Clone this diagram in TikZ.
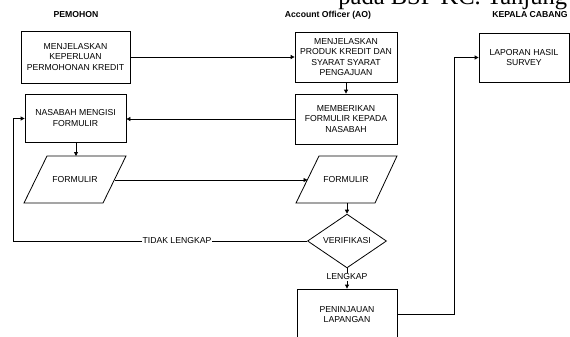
\documentclass[tikz,border=0pt]{standalone}
\usepackage{fontspec}
\setmainfont{Liberation Sans}
\newfontfamily\serifbig{Liberation Serif}
\usetikzlibrary{shapes.geometric,arrows.meta}
\tikzset{
  every picture/.style={line width=0.6pt},
  txt/.style={font=\fontsize{6.5}{7.9}\selectfont, align=center},
  hdr/.style={font=\bfseries\fontsize{6.5}{7.9}\selectfont},
  procbox/.style={draw, txt, rectangle, inner sep=1pt},
  decbox/.style={draw, txt, diamond, inner sep=0pt, minimum width=59.25pt, minimum height=34.5pt},
  arr/.style={-{Triangle[length=3pt,width=3pt]}},
  lbl/.style={txt, fill=white, inner sep=0.5pt}
}
\begin{document}
\begin{tikzpicture}[x=0.75pt,y=-0.75pt]
\useasboundingbox (0,0) rectangle (570,336);
\clip (0,0) rectangle (570,336);
\fill[white] (0,0) rectangle (570,336);
% cut-off title
\node[anchor=base west, inner sep=0, font=\serifbig\fontsize{18.4}{20}\selectfont] (title) at (338,4) {pada BSP KC. Tanjung};
% headers
\node[hdr] (h1) at (76,15) {PEMOHON};
\node[hdr] (h2) at (328,15) {Account Officer (AO)};
\node[hdr] (h3) at (530,15) {KEPALA CABANG};
% boxes
\node[procbox, minimum width=81.75pt, minimum height=39pt] (b1) at (75.5,57) {MENJELASKAN\\KEPERLUAN\\PERMOHONAN KREDIT};
\node[procbox, minimum width=75.75pt, minimum height=36pt] (b2) at (75.5,118) {NASABAH MENGISI\\FORMULIR};
\node[procbox, minimum width=76.5pt, minimum height=37.5pt] (ba) at (346,57) {MENJELASKAN\\PRODUK KREDIT DAN\\SYARAT SYARAT\\PENGAJUAN};
\node[procbox, minimum width=76.5pt, minimum height=37.5pt] (bb) at (346,119) {MEMBERIKAN\\FORMULIR KEPADA\\NASABAH};
\node[procbox, minimum width=67.5pt, minimum height=36.75pt] (bl) at (524,57.5) {LAPORAN HASIL\\SURVEY};
\node[procbox, minimum width=75pt, minimum height=38.25pt] (bc) at (347,314.5) {PENINJAUAN\\LAPANGAN};
% parallelograms
\draw (47,156) -- (126,156) -- (103,203) -- (24,203) -- cycle;
\node[txt] (fl) at (75,180) {FORMULIR};
\coordinate (flt) at (76,156);
\coordinate (flr) at (114.5,180);
\draw (319,156) -- (397,156) -- (375,203) -- (296,203) -- cycle;
\node[txt] (fr) at (346,180) {FORMULIR};
\coordinate (frl) at (307.5,180);
\coordinate (frb) at (347,203);
% decision
\node[decbox] (dv) at (347,241) {VERIFIKASI};
% connectors
\draw[arr] (b1.east) -- (ba.west |- b1.east);
\draw[arr] (ba.south) -- (bb.north);
\draw[arr] (bb.west) -- (b2.east |- bb.west);
\draw[arr] (b2.south -| flt) -- (flt);
\draw[arr] (flr) -- (frl);
\draw[arr] (frb) -- (dv.north);
\coordinate (lb) at (13,241);
\coordinate (lt) at (13,118.5);
\draw[arr] (dv.west) -- (lb) -- (lt) -- (b2.west |- lt);
\node[lbl] (tl) at (177,241) {TIDAK LENGKAP};
\draw[arr] (dv.south) -- (bc.north);
\node[lbl] (lk) at (347,277) {LENGKAP};
\coordinate (rb) at (454,314.5);
\coordinate (rt) at (454,57.5);
\draw[arr] (bc.east) -- (rb) -- (rt) -- (bl.west);
\end{tikzpicture}
\end{document}
